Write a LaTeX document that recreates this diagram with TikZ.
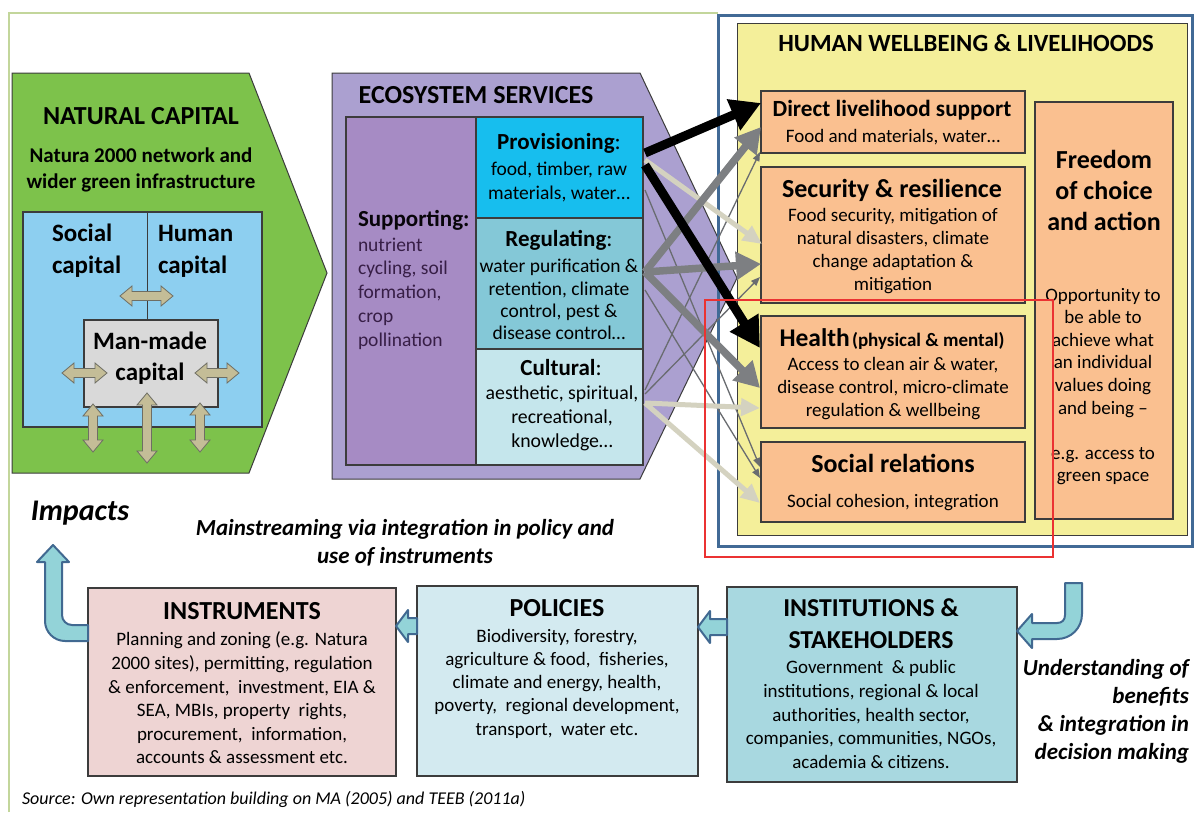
\documentclass[tikz,border=0pt]{standalone}
\usepackage{fontspec}
\setmainfont{Carlito}
\usetikzlibrary{arrows.meta}
\definecolor{framegreen}{RGB}{195,214,155}
\definecolor{ncgreen}{RGB}{125,194,75}
\definecolor{ncblue}{RGB}{141,207,240}
\definecolor{mmgray}{RGB}{217,217,217}
\definecolor{tanfill}{RGB}{196,189,151}
\definecolor{tanline}{RGB}{110,110,100}
\definecolor{espurple}{RGB}{171,160,208}
\definecolor{supppurple}{RGB}{166,139,196}
\definecolor{supptext}{RGB}{55,30,70}
\definecolor{provblue}{RGB}{23,190,238}
\definecolor{regblue}{RGB}{132,200,215}
\definecolor{cultblue}{RGB}{197,230,236}
\definecolor{hwyellow}{RGB}{244,239,154}
\definecolor{hworange}{RGB}{250,192,144}
\definecolor{hwblue}{RGB}{65,106,150}
\definecolor{redline}{RGB}{235,50,50}
\definecolor{instrpink}{RGB}{238,212,211}
\definecolor{polblue}{RGB}{211,234,240}
\definecolor{instblue}{RGB}{168,216,224}
\definecolor{arrteal}{RGB}{147,211,216}
\definecolor{arredge}{RGB}{65,105,145}
\definecolor{outline}{RGB}{60,60,60}
\definecolor{thickgray}{RGB}{125,127,130}
\definecolor{lightarr}{RGB}{212,210,192}
\definecolor{thingray}{RGB}{105,108,112}
\newcommand\fsz[2]{\fontsize{#1}{#2}\selectfont}
\newcommand\hdbl[3]{\filldraw[dblarr] (#1,#3) -- (#1+12,#3-10) -- (#1+12,#3-4.5) -- (#2-12,#3-4.5) -- (#2-12,#3-10) -- (#2,#3) -- (#2-12,#3+10) -- (#2-12,#3+4.5) -- (#1+12,#3+4.5) -- (#1+12,#3+10) -- cycle;}
\newcommand\vdbl[3]{\filldraw[dblarr] (#1,#2) -- (#1+10,#2+12) -- (#1+4.5,#2+12) -- (#1+4.5,#3-12) -- (#1+10,#3-12) -- (#1,#3) -- (#1-10,#3-12) -- (#1-4.5,#3-12) -- (#1-4.5,#2+12) -- (#1-10,#2+12) -- cycle;}
\tikzset{
  boxnode/.style={draw=outline, line width=1.2pt, inner sep=0pt, outer sep=0pt},
  txt/.style={inner sep=0pt, outer sep=0pt, align=center},
  ttl/.style={txt, font=\fsz{26}{31}\bfseries},
  bhead/.style={txt, font=\fsz{26}{31}\bfseries},
  head/.style={txt, font=\fsz{23}{28}\bfseries},
  body/.style={txt, font=\fsz{19}{22.7}},
  bbody/.style={txt, font=\fsz{19}{23.5}},
  dblarr/.style={fill=tanfill, draw=tanline, line width=0.8pt},
  tealarr/.style={fill=arrteal, draw=arredge, line width=2pt, line join=round},
  blkarr/.style={draw=black, line width=9pt, -{Triangle[length=30pt,width=32pt]}},
  gryarr/.style={draw=thickgray, line width=7.5pt, -{Triangle[length=25pt,width=27pt]}},
  lgtarr/.style={draw=lightarr, line width=5pt, -{Triangle[length=19pt,width=17pt]}},
  thnarr/.style={draw=thingray, line width=1.3pt, -{Triangle[length=9pt,width=7pt]}}
}
\begin{document}
\begin{tikzpicture}[x=1pt,y=-1pt]
\path[use as bounding box] (0,0) rectangle (1197,812);
\fill[white] (0,0) rectangle (1197,812);
\draw[framegreen, line width=1.5pt] (9,812) -- (9,13) -- (718,13);

% ---------------- Natural capital
\filldraw[fill=ncgreen, draw=outline, line width=1pt] (12,73) -- (249,73) -- (327,273) -- (249,473) -- (12,473) -- cycle;
\node[ttl] (nctitle) at (141,116) {NATURAL CAPITAL};
\node[txt, font=\fsz{21}{26}\bfseries] (ncsub) at (141,170) {Natura 2000 network and\\wider green infrastructure};
\node[boxnode, fill=ncblue, minimum width=239pt, minimum height=215pt] (bluebox) at (142.5,319.5) {};
\draw[outline, line width=1pt] (147,212) -- (147,320);
\node[boxnode, fill=mmgray, minimum width=134pt, minimum height=87pt] (manmade) at (151,363.5) {};
\node[txt, align=left, anchor=west, font=\fsz{25}{32}\bfseries] (socialcap) at (52,251) {Social\\capital};
\node[txt, align=left, anchor=west, font=\fsz{25}{32}\bfseries] (humancap) at (158,251) {Human\\capital};
\node[txt, font=\fsz{25}{31}\bfseries] (mmtext) at (150,358.5) {Man-made\\capital};
\hdbl{120}{173}{296}
\hdbl{62}{107}{373}
\hdbl{195}{239}{373}
\vdbl{93}{404}{452}
\vdbl{147}{393}{463}
\vdbl{200}{403}{452}

% ---------------- Ecosystem services
\filldraw[fill=espurple, draw=outline, line width=1pt] (332,73) -- (640,73) -- (737,278) -- (640,479) -- (332,479) -- cycle;
\node[ttl] (estitle) at (476,95) {ECOSYSTEM SERVICES};
\node[boxnode, fill=supppurple, minimum width=130pt, minimum height=348pt] (supp) at (411,291) {};
\node[boxnode, fill=provblue, minimum width=167pt, minimum height=101pt] (prov) at (559.5,167.5) {};
\node[boxnode, fill=regblue, minimum width=167pt, minimum height=131pt] (reg) at (559.5,283.5) {};
\node[boxnode, fill=cultblue, minimum width=167pt, minimum height=116pt] (cult) at (559.5,407) {};
\node[head, anchor=west, text=black!85!supptext] (supphead) at (358,220) {Supporting:};
\node[body, align=left, anchor=west, text=supptext, font=\fsz{19.5}{23.75}] (suppbody) at (358,293.5) {nutrient\\cycling, soil\\formation,\\crop\\pollination};
\node[head] (provhead) at (559,143) {Provisioning\mdseries:};
\node[body, font=\fsz{19.5}{24}] (provbody) at (559,181.5) {food, timber, raw\\materials, water…};
\node[head] (reghead) at (559,240) {Regulating\mdseries:};
\node[body, font=\fsz{19.5}{22.3}] (regbody) at (559,299.5) {water purification \&\\retention, climate\\control, pest \&\\disease control…};
\node[head] (culthead) at (561,368) {Cultural\mdseries:};
\node[body, font=\fsz{19.8}{24}] (cultbody) at (562,418) {aesthetic, spiritual,\\recreational,\\knowledge…};

% ---------------- Human wellbeing
\node[draw=hwblue, line width=3pt, inner sep=0pt, minimum width=474pt, minimum height=531pt] (hwframe) at (955,280.5) {};
\node[boxnode, line width=1pt, fill=hwyellow, minimum width=450pt, minimum height=512pt] (hwbox) at (962,279) {};
\node[ttl, font=\fsz{24.7}{30}\bfseries] (hwtitle) at (966,43) {HUMAN WELLBEING \& LIVELIHOODS};
\node[boxnode, fill=hworange, minimum width=264pt, minimum height=62pt] (direct) at (893,122) {};
\node[boxnode, fill=hworange, minimum width=264pt, minimum height=136pt] (secur) at (893,235) {};
\node[boxnode, fill=hworange, minimum width=264pt, minimum height=112pt] (health) at (893,372) {};
\node[boxnode, fill=hworange, minimum width=264pt, minimum height=80pt] (social) at (893,482) {};
\node[boxnode, fill=hworange, minimum width=138pt, minimum height=417pt] (freedom) at (1104,310.5) {};
\node[head, font=\fsz{23.2}{26}\bfseries] (directhead) at (892,110) {Direct livelihood support};
\node[body] (directbody) at (893,137) {Food and materials, water…};
\node[bhead] (securhead) at (892,190) {Security \& resilience};
\node[body] (securbody) at (893,251) {Food security, mitigation of\\natural disasters, climate\\change adaptation \&\\mitigation};
\node[txt] (healthhead) at (892,339) {{\fsz{25.5}{30}\bfseries Health} {\fsz{19}{22}\bfseries(physical \& mental)}};
\node[body] (healthbody) at (893,388.5) {Access to clean air \& water,\\disease control, micro-climate\\regulation \& wellbeing};
\node[bhead] (socialhead) at (893,463) {Social relations};
\node[body] (socialbody) at (893,503) {Social cohesion, integration};
\node[txt, font=\fsz{26}{31}\bfseries] (freehead) at (1104,190) {Freedom\\of choice\\and action};
\node[body, font=\fsz{19}{22.6}] (freebody) at (1103,386.5) {Opportunity to\\be able to\\achieve what\\an individual\\values doing\\and being –\\[22.6pt]e.g. access to\\green space};

% ---------------- connectors ES -> HW
\coordinate (pA) at (645,153);
\coordinate (pB) at (645,160);
\coordinate (pC) at (645,165);
\coordinate (pD) at (645,190);
\coordinate (rA) at (645,272);
\coordinate (rD) at (645,290);
\coordinate (cA) at (645,390);
\coordinate (cB) at (645,394);
\coordinate (cC) at (645,403);
\coordinate (dA) at (761,103);
\coordinate (dB) at (761,127);
\coordinate (dC) at (760,152);
\coordinate (sA) at (762,244);
\coordinate (sB) at (761,264);
\coordinate (sC) at (760,277);
\coordinate (hA) at (760,348);
\coordinate (hB) at (760,388);
\coordinate (hC) at (760,408);
\coordinate (oA) at (760,467);
\coordinate (oB) at (760,478);
\coordinate (oC) at (760,503);
\draw[thnarr] (pD) -- (oA);
\draw[thnarr] (rD) -- (oB);
\draw[thnarr] (cA) -- (dC);
\draw[thnarr] (cB) -- (sC);
\draw[lgtarr] (pB) -- (sA);
\draw[lgtarr] (cC) -- (hC);
\draw[lgtarr] (cC) -- (oC);
\draw[gryarr] (rA) -- (dB);
\draw[gryarr] (rA) -- (sB);
\draw[gryarr] (rA) -- (hB);
\draw[blkarr] (pA) -- (dA);
\draw[blkarr] (pC) -- (hA);

\node[draw=redline, line width=2.5pt, inner sep=0pt, minimum width=348pt, minimum height=257pt] (redbox) at (879,428.5) {};

% ---------------- bottom row
\node[boxnode, fill=instrpink, minimum width=308pt, minimum height=188pt] (instr) at (242,682) {};
\node[boxnode, fill=polblue, minimum width=281pt, minimum height=190pt] (polic) at (557.5,681) {};
\node[boxnode, fill=instblue, minimum width=290pt, minimum height=195pt] (instit) at (872,684.5) {};
\node[ttl] (instrhead) at (242,611) {INSTRUMENTS};
\node[bbody, font=\fsz{19}{23.6}] (instrbody) at (242,698) {Planning and zoning (e.g. Natura\\2000 sites), permitting, regulation\\\& enforcement,~ investment, EIA \&\\SEA, MBIs, property~ rights,\\procurement,~ information,\\accounts \& assessment etc.};
\node[ttl] (polhead) at (557,608) {POLICIES};
\node[bbody, font=\fsz{19}{23.25}] (polbody) at (557,683.5) {Biodiversity, forestry,\\agriculture \& food,~ fisheries,\\climate and energy, health,\\poverty,~ regional development,\\transport,~ water etc.};
\node[ttl, font=\fsz{25.8}{32}\bfseries] (insthead) at (871,624) {INSTITUTIONS \&\\STAKEHOLDERS};
\node[bbody, font=\fsz{19}{23.75}] (instbody) at (871,714.5) {Government~ \& public\\institutions, regional \& local\\authorities, health sector,\\companies, communities, NGOs,\\academia \& citizens.};

% teal block arrows
\filldraw[tealarr] (88,641) -- (65,641) .. controls (54,641) and (45,632) .. (45,621) -- (45,562) -- (37,562) -- (53,545) -- (69,562) -- (62,562) -- (62,615) .. controls (62,620.5) and (66.5,625) .. (72,625) -- (88,625) -- cycle;
\filldraw[tealarr] (417,618) -- (408,618) -- (408,610) -- (396,626) -- (408,642) -- (408,634) -- (417,634) -- cycle;
\filldraw[tealarr] (727,619) -- (710,619) -- (710,611) -- (698,627) -- (710,643) -- (710,635) -- (727,635) -- cycle;
\filldraw[tealarr] (1065,583) -- (1082,583) -- (1082,614) .. controls (1082,628) and (1071,639) .. (1057,639) -- (1032,639) -- (1032,648) -- (1017,631) -- (1032,614) -- (1032,623) -- (1057,623) .. controls (1062,623) and (1065,620) .. (1065,615) -- cycle;

% free texts
\node[txt, font=\fsz{30}{34}\bfseries\itshape] (impacts) at (80,513) {Impacts};
\node[txt, font=\fsz{23}{28}\bfseries\itshape] (mainstream) at (405,543) {Mainstreaming via integration in policy and\\use of instruments};
\node[txt, align=right, anchor=east, font=\fsz{23}{28}\bfseries\itshape] (understand) at (1189,711) {Understanding of\\benefits\\\& integration in\\decision making};
\node[txt, anchor=west, font=\fsz{18}{20}\itshape] (source) at (22,799) {Source: Own representation building on MA (2005) and TEEB (2011a)};
\end{tikzpicture}
\end{document}
